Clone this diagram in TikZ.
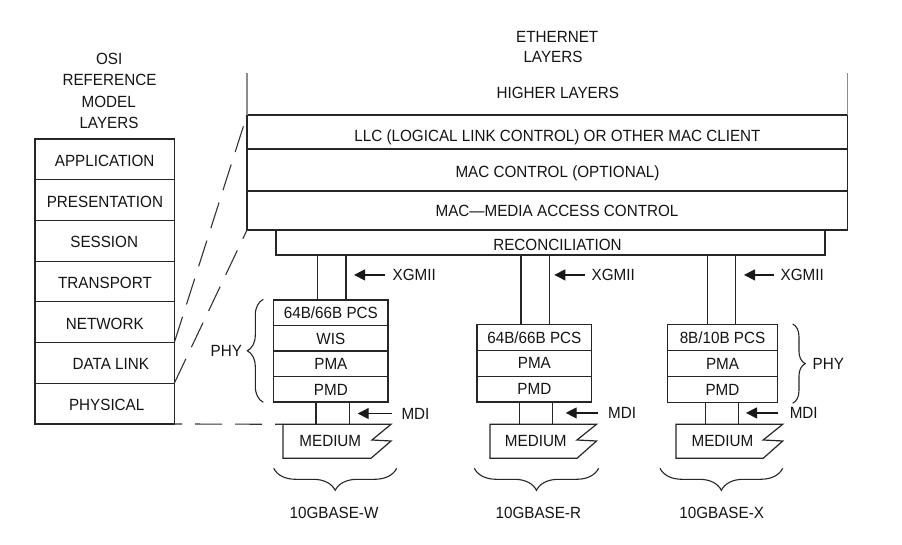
\documentclass[tikz,border=0pt]{standalone}
\usepackage{fontspec}
\setmainfont[FakeStretch=0.94]{Liberation Sans}
\usetikzlibrary{arrows.meta,decorations.pathreplacing}
\begin{document}
\begin{tikzpicture}[x=1pt,y=-1pt,
  font=\fontsize{16.2}{19}\selectfont,
  ln/.style={line width=1.2pt,draw=black!85},
  box/.style={ln,rectangle,inner sep=0pt,outer sep=0pt,anchor=north west},
  txt/.style={inner sep=0pt,outer sep=0pt,anchor=base,text=black!92},
  txtw/.style={txt,anchor=base west},
  dsh/.style={line width=1.1pt,draw=black!80,dash pattern=on 27pt off 13pt},
  arr/.style={line width=1.2pt,draw=black!90,-{Triangle[length=11pt,width=11pt]}},
  brc/.style={line width=1.1pt,draw=black!85,decorate,decoration={brace,amplitude=#1}},
  hl/.style={line width=1.2pt,draw=black!45},
]
\useasboundingbox (0,0) rectangle (902,545);

% OSI title
\node[txt] (osiT1) at (109.2,64.1) {OSI};
\node[txt] (osiT2) at (109.5,85.1) {REFERENCE};
\node[txt] (osiT3) at (108.7,107.5) {MODEL};
\node[txt] (osiT4) at (109,128.5) {LAYERS};

% OSI stack
\node[box,minimum width=139.3pt,minimum height=40.71pt] (osi1) at (35,139) {};
\node[box,minimum width=139.3pt,minimum height=40.71pt] (osi2) at (35,179.71) {};
\node[box,minimum width=139.3pt,minimum height=40.71pt] (osi3) at (35,220.42) {};
\node[box,minimum width=139.3pt,minimum height=40.71pt] (osi4) at (35,261.13) {};
\node[box,minimum width=139.3pt,minimum height=40.71pt] (osi5) at (35,301.84) {};
\node[box,minimum width=139.3pt,minimum height=40.71pt] (osi6) at (35,342.55) {};
\node[box,minimum width=139.3pt,minimum height=40.71pt] (osi7) at (35,383.26) {};
\node[txt] (osiL1) at (104.7,166.36) {APPLICATION};
\node[txt] (osiL2) at (104.9,207.07) {PRESENTATION};
\node[txt] (osiL3) at (104.2,247.78) {SESSION};
\node[txt] (osiL4) at (105,288.49) {TRANSPORT};
\node[txt] (osiL5) at (104.8,329.2) {NETWORK};
\node[txt] (osiL6) at (110.8,369.91) {DATA LINK};
\node[txt] (osiL7) at (106.7,410.62) {PHYSICAL};

% Ethernet layers
\node[txt] (ethT1) at (557.2,42.5) {ETHERNET};
\node[txt] (ethT2) at (553,62.5) {LAYERS};
\node[txt] (hlT) at (557.8,98.5) {HIGHER LAYERS};

\node[box,minimum width=600.3pt,minimum height=34pt] (llc) at (247,115) {};
\node[box,minimum width=600.3pt,minimum height=42pt] (macc) at (247,149) {};
\node[box,minimum width=600.3pt,minimum height=39pt] (mac) at (247,191) {};
\draw[hl] (llc.north west) -- ++(0,-42);
\draw[hl] (llc.north east) -- ++(0,-42);
\node[txt] (llcT) at (557.5,141.8) {LLC (LOGICAL LINK CONTROL) OR OTHER MAC CLIENT};
\node[txt] (maccT) at (557.5,177.5) {MAC CONTROL (OPTIONAL)};
\node[txt] (macT) at (557,216.5) {MAC—MEDIA ACCESS CONTROL};

\node[box,minimum width=549pt,minimum height=25pt] (recon) at (276,230) {};
\node[txt] (reconT) at (557.5,250.1) {RECONCILIATION};

% Column 1 (10GBASE-W)
\node[box,minimum width=114.3pt,minimum height=25.5pt] (pcs1) at (273.7,300) {};
\node[box,minimum width=114.3pt,minimum height=25.5pt] (wis1) at (273.7,325.5) {};
\node[box,minimum width=114.3pt,minimum height=25.5pt] (pma1) at (273.7,351) {};
\node[box,minimum width=114.3pt,minimum height=25.5pt] (pmd1) at (273.7,376.5) {};
\node[txt] (pcs1T) at (330.85,318.55) {64B/66B PCS};
\node[txt] (wis1T) at (330.85,344.05) {WIS};
\node[txt] (pma1T) at (330.85,369.55) {PMA};
\node[txt] (pmd1T) at (330.85,395.05) {PMD};

% Column 2 (10GBASE-R)
\node[box,minimum width=114.7pt,minimum height=25.9pt] (pcs2) at (477,324.3) {};
\node[box,minimum width=114.7pt,minimum height=25.9pt] (pma2) at (477,350.2) {};
\node[box,minimum width=114.7pt,minimum height=25.9pt] (pmd2) at (477,376.1) {};
\node[txt] (pcs2T) at (534.35,343.05) {64B/66B PCS};
\node[txt] (pma2T) at (534.35,368.95) {PMA};
\node[txt] (pmd2T) at (534.35,394.85) {PMD};

% Column 3 (10GBASE-X)
\node[box,minimum width=110.4pt,minimum height=26pt] (pcs3) at (667.3,324.3) {};
\node[box,minimum width=110.4pt,minimum height=26pt] (pma3) at (667.3,350.3) {};
\node[box,minimum width=110.4pt,minimum height=26pt] (pmd3) at (667.3,376.3) {};
\node[txt] (pcs3T) at (722.5,343.1) {8B/10B PCS};
\node[txt] (pma3T) at (722.5,369.1) {PMA};
\node[txt] (pmd3T) at (722.5,395.1) {PMD};

% XGMII links
\draw[ln] (317.7,0 |- recon.south) -- (317.7,0 |- pcs1.north);
\draw[ln] (346,0 |- recon.south) -- (346,0 |- pcs1.north);
\draw[ln] (521,0 |- recon.south) -- (521,0 |- pcs2.north);
\draw[ln] (549.3,0 |- recon.south) -- (549.3,0 |- pcs2.north);
\draw[ln] (707.3,0 |- recon.south) -- (707.3,0 |- pcs3.north);
\draw[ln] (735.7,0 |- recon.south) -- (735.7,0 |- pcs3.north);

\node[txtw] (xg1) at (392.7,280.5) {XGMII};
\node[txtw] (xg2) at (591.7,280.5) {XGMII};
\node[txtw] (xg3) at (780.7,280.5) {XGMII};
\draw[arr] ([xshift=-7.7pt]xg1.west) -- (354,0 |- xg1.west);
\draw[arr] ([xshift=-6.7pt]xg2.west) -- (554.3,0 |- xg2.west);
\draw[arr] ([xshift=-6.7pt]xg3.west) -- (744,0 |- xg3.west);

% Media
\coordinate (m1) at (283,424.3);
\coordinate (m2) at (490,424.3);
\coordinate (m3) at (676,424.3);
\draw[ln] (m1) -- ++(108,0) -- ++(-19,15.7) -- ++(19,1) -- ++(-20,17.3) -- ++(-88,0) -- cycle;
\draw[ln] (m2) -- ++(106.5,0) -- ++(-19.5,15.7) -- ++(19.5,1) -- ++(-19.5,17.3) -- ++(-87,0) -- cycle;
\draw[ln] (m3) -- ++(106.7,0) -- ++(-19.5,15.7) -- ++(19.5,1) -- ++(-19.5,17.3) -- ++(-87.2,0) -- cycle;
\node[txt] (med1) at (330.3,446.8) {MEDIUM};
\node[txt] (med2) at (535.8,446.8) {MEDIUM};
\node[txt] (med3) at (722.5,446.8) {MEDIUM};

% MDI links
\draw[ln] (316,0 |- pmd1.south) -- (316,0 |- m1);
\draw[ln] (349.5,0 |- pmd1.south) -- (349.5,0 |- m1);
\draw[ln] (519.7,0 |- pmd2.south) -- (519.7,0 |- m2);
\draw[ln] (552.3,0 |- pmd2.south) -- (552.3,0 |- m2);
\draw[ln] (705.7,0 |- pmd3.south) -- (705.7,0 |- m3);
\draw[ln] (738.7,0 |- pmd3.south) -- (738.7,0 |- m3);

\node[txtw] (md1) at (401.5,419.1) {MDI};
\node[txtw] (md2) at (608.2,418.5) {MDI};
\node[txtw] (md3) at (789.8,418.5) {MDI};
\draw[arr] ([xshift=-9.8pt]md1.west) -- (357.7,0 |- md1.west);
\draw[arr] ([xshift=-9.9pt]md2.west) -- (565.7,0 |- md2.west);
\draw[arr] ([xshift=-11.5pt]md3.west) -- (746,0 |- md3.west);

% PHY braces
\draw[brc=16] (263.3,402.3) -- (263.3,299.3);
\node[txt] (phy1) at (226.3,356.5) {PHY};
\draw[brc=12.5] (792.7,324) -- (792.7,403.3);
\node[txtw] (phy3) at (812.7,369.8) {PHY};

% bottom braces
\draw[brc=22] (396.7,468.3) -- (273.7,468.3);
\draw[brc=22] (598.6,468.3) -- (474.3,468.3);
\draw[brc=22] (782.7,468.3) -- (660,468.3);
\node[txt] (base1) at (334,518.5) {10GBASE-W};
\node[txt] (base2) at (538.3,518.5) {10GBASE-R};
\node[txt] (base3) at (721.7,518.5) {10GBASE-X};

% OSI mapping dashed lines
\draw[dsh] (osi5.south east) -- (llc.north west);
\draw[dsh] (osi6.south east) -- (mac.south west);
\draw[dsh,dash phase=19] (m1) -- (osi7.south east);
\end{tikzpicture}
\end{document}
